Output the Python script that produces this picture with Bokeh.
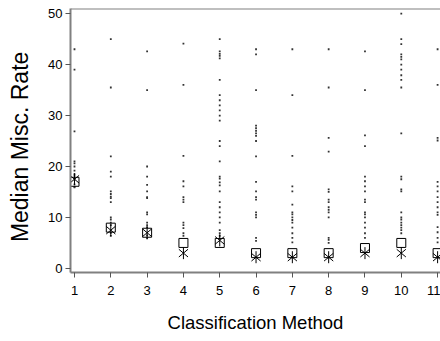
from bokeh.plotting import figure
from bokeh.models import Range1d, FixedTicker, Span
from bokeh.embed import file_html
from bokeh.resources import INLINE
import math

methods = [1, 2, 3, 4, 5, 6, 7, 8, 9, 10, 11]
square_vals = [17.0, 8.0, 7.0, 5.0, 5.0, 3.0, 3.0, 3.0, 4.0, 5.0, 3.0]
asterisk_vals = [17.5, 7.5, 7.0, 3.0, 5.5, 2.2, 2.2, 2.2, 3.0, 3.0, 2.2]

dots = {
    1: [43.0, 39.0, 26.9, 21.0, 20.6, 20.0, 19.2, 18.5, 18.2, 17.5, 16.5, 16.0, 15.9],
    2: [45.0, 35.5, 22.0, 19.0, 18.0, 15.1, 14.6, 14.1, 13.8, 13.0, 10.0, 9.6, 9.0,
        8.5, 7.0, 6.4],
    3: [42.6, 35.0, 20.0, 18.0, 16.4, 15.1, 14.0, 13.8, 11.0, 10.6, 9.0, 8.5, 8.1,
        6.5, 5.9],
    4: [44.1, 36.0, 22.1, 17.1, 16.1, 14.0, 13.5, 13.0, 9.0, 8.5, 7.9, 6.9, 6.4],
    5: [45.0, 42.6, 42.1, 41.7, 41.2, 37.0, 34.0, 33.0, 32.0, 31.0, 30.0, 29.0, 25.0,
        24.0, 21.0, 18.0, 17.6, 16.9, 16.3, 15.1, 13.0, 12.0, 11.0, 10.0, 9.0, 7.5,
        6.9, 6.4],
    6: [43.0, 42.0, 35.0, 28.0, 27.5, 27.0, 26.5, 26.0, 25.0, 22.0, 17.0, 15.1, 14.0,
        13.5, 11.0, 10.5, 10.0, 6.0, 5.4],
    7: [43.0, 34.0, 22.1, 16.1, 15.1, 12.5, 11.0, 10.6, 10.0, 9.5, 9.0, 8.0, 6.9, 6.0,
        5.1],
    8: [43.0, 35.5, 25.6, 22.9, 15.5, 15.0, 13.5, 13.0, 12.0, 11.5, 11.0, 10.0, 6.0,
        5.6, 5.0],
    9: [42.6, 35.0, 26.1, 24.0, 18.0, 17.1, 16.1, 15.1, 13.5, 13.0, 11.0, 10.6, 10.0,
        9.0, 8.0, 6.9, 6.0],
    10: [50.0, 45.0, 44.0, 42.0, 41.5, 41.0, 40.0, 39.0, 37.9, 37.0, 35.5, 26.5, 18.0,
         17.5, 15.5, 15.1, 11.0, 10.0, 9.6, 9.0, 8.5, 8.0, 7.5, 6.9],
    11: [43.0, 36.0, 25.6, 25.1, 17.0, 16.1, 15.1, 14.0, 13.0, 12.0, 11.0, 10.5, 8.1,
         7.1, 6.0, 5.1],
}

y_ticks = [0, 10, 20, 30, 40, 50]

dot_x = []
dot_y = []
for m in methods:
    for v in dots[m]:
        dot_x.append(m)
        dot_y.append(v)

FONT = "Liberation Sans"
AX = "#808080"

p = figure(width=440, height=341, output_backend="svg", toolbar_location=None,
           x_range=Range1d(0.89, 11.08), y_range=Range1d(-0.8, 51.0),
           min_border_left=70, min_border_right=0, min_border_top=8,
           min_border_bottom=69)
p.outline_line_color = None
p.grid.visible = False
p.background_fill_color = "white"
p.border_fill_color = "white"

p.scatter(dot_x, dot_y, marker="square", size=1.8, fill_color="#333333",
          line_color=None)
p.scatter(methods, square_vals, marker="square", size=9, fill_color=None,
          line_color="black", line_width=1)
for ang in (90, 40, -40):
    p.scatter(methods, asterisk_vals, marker="dash", size=12,
              angle=math.radians(ang), line_color="black", line_width=1)

p.add_layout(Span(location=51.0, dimension="width", line_color=AX, line_width=2))

for ax in (p.xaxis[0], p.yaxis[0]):
    ax.axis_line_color = AX
    ax.axis_line_width = 2
    ax.major_tick_line_color = "#555555"
    ax.major_tick_out = 5
    ax.major_tick_in = 0
    ax.minor_tick_line_color = None
    ax.major_label_text_font = FONT
    ax.major_label_text_font_size = "13px"
    ax.major_label_text_color = "black"
    ax.axis_label_text_font = FONT
    ax.axis_label_text_font_style = "normal"
    ax.axis_label_text_color = "black"

p.xaxis.ticker = FixedTicker(ticks=methods)
p.yaxis.ticker = FixedTicker(ticks=y_ticks)
p.xaxis.axis_label = "Classification Method"
p.yaxis.axis_label = "Median  Misc.  Rate"
p.xaxis.axis_label_text_font_size = "18.5px"
p.yaxis.axis_label_text_font_size = "23px"
p.xaxis.major_label_standoff = 8
p.yaxis.major_label_standoff = 3
p.xaxis.axis_label_standoff = 14
p.yaxis.axis_label_standoff = 12

open("out.html", "w").write(file_html(p, INLINE))
